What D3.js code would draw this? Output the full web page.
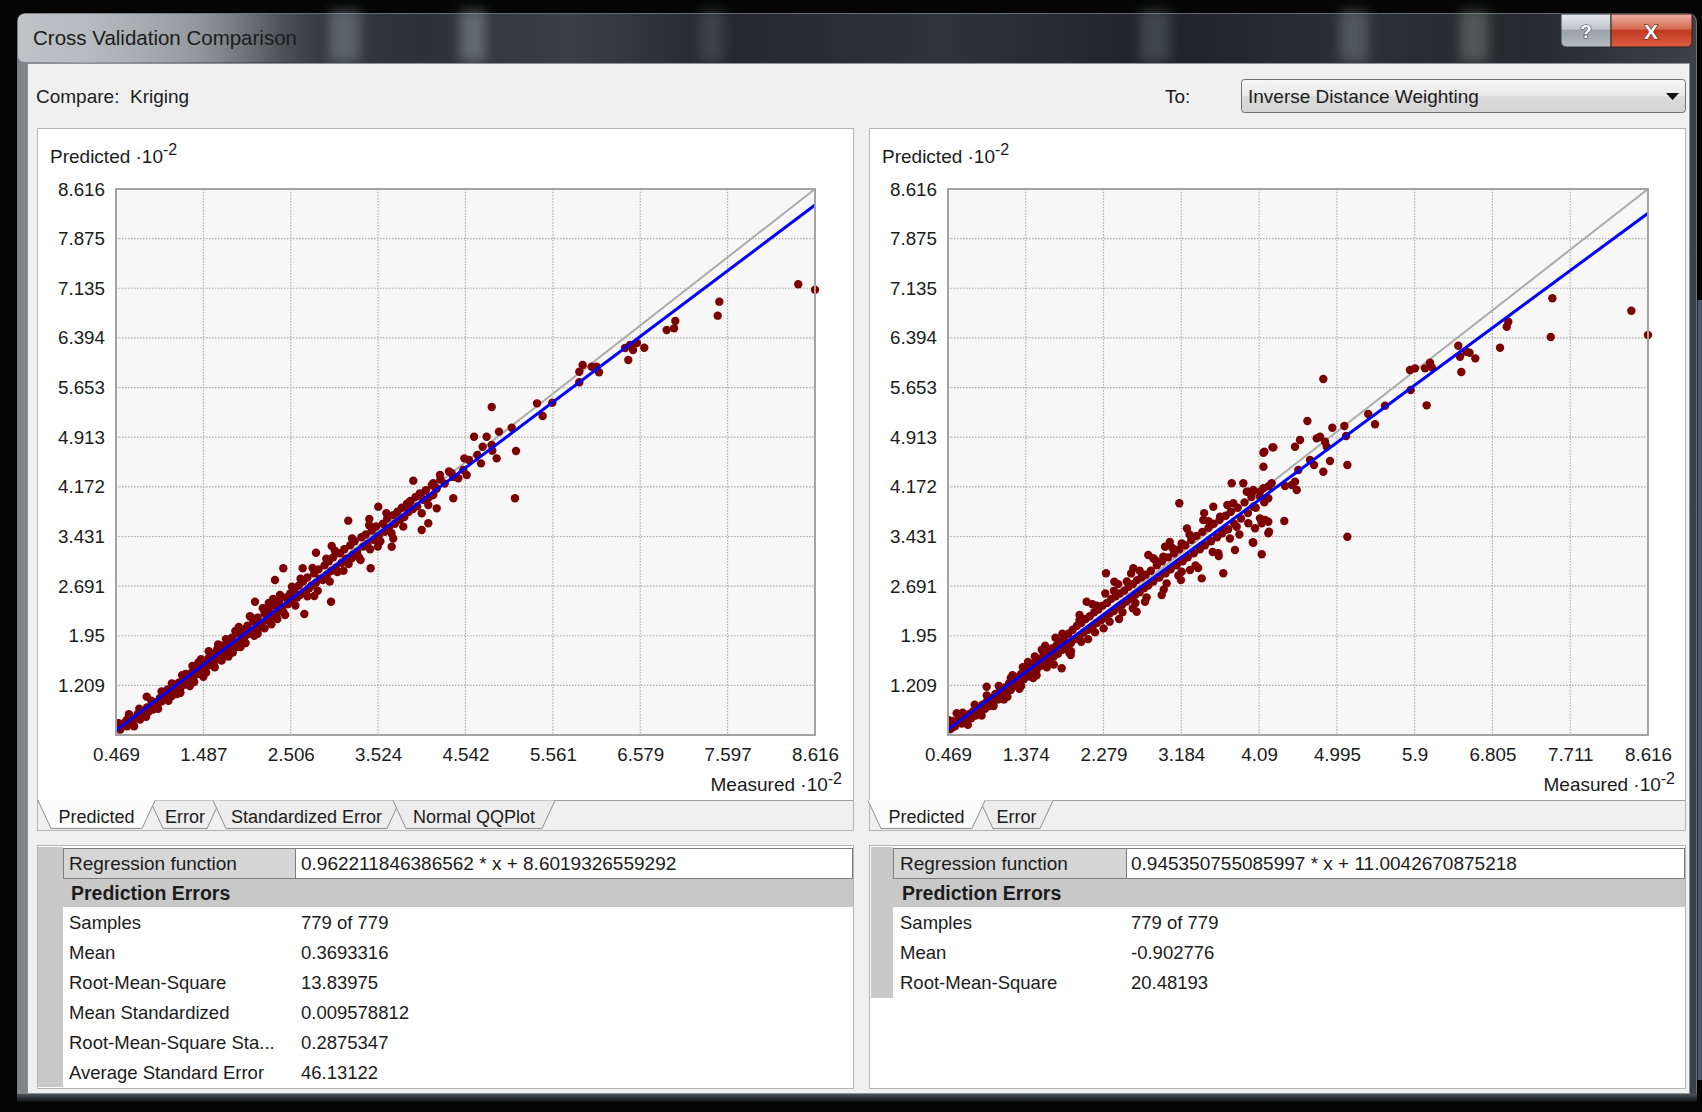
<!DOCTYPE html>
<html>
<head>
<meta charset="utf-8">
<script src="https://cdn.jsdelivr.net/npm/d3@7/dist/d3.min.js"></script>
<style>
html,body{margin:0;padding:0;background:#000;overflow:hidden;}
svg{display:block;}
text{font-family:"Liberation Sans",Arial,Helvetica,sans-serif;fill:#1b1b1b;white-space:pre;}
</style>
</head>
<body>
<svg id="chart" width="1702" height="1112"></svg>
<script>
// ---------------- DATA ----------------
const titleText = "Cross Validation Comparison";
const compareLabel = "Compare:  Kriging";
const toLabel = "To:";
const toChoice = "Inverse Distance Weighting";

const axisMin = 0.469, axisMax = 8.616;
const yTickLabels = ["1.209","1.95","2.691","3.431","4.172","4.913","5.653","6.394","7.135","7.875","8.616"];
const krigingXTickLabels = ["0.469","1.487","2.506","3.524","4.542","5.561","6.579","7.597","8.616"];
const idwXTickLabels = ["0.469","1.374","2.279","3.184","4.09","4.995","5.9","6.805","7.711","8.616"];

const krigingRegression = [0.962211846386562, 8.6019326559292];
const idwRegression = [0.945350755085997, 11.0042670875218];

const krigingTabs = ["Predicted","Error","Standardized Error","Normal QQPlot"];
const idwTabs = ["Predicted","Error"];

const krigingStatLabels = ["Samples","Mean","Root-Mean-Square","Mean Standardized","Root-Mean-Square Sta...","Average Standard Error"];
const krigingStatValues = ["779 of 779","0.3693316","13.83975","0.009578812","0.2875347","46.13122"];
const idwStatLabels = ["Samples","Mean","Root-Mean-Square"];
const idwStatValues = ["779 of 779","-0.902776","20.48193"];

// [measured, predicted] in units of 10^-2
const krigingPoints = [
[8.421,7.194],[8.616,7.114],[7.501,6.935],[7.482,6.726],[6.988,6.646],[6.887,6.512],[6.973,6.537],[6.626,6.248],
[6.440,6.064],[6.460,6.288],[6.541,6.318],[6.495,6.214],[6.402,6.243],[5.908,5.990],[5.869,5.890],[6.013,5.965],
[6.071,5.965],[6.098,5.881],[5.869,5.732],[4.848,5.363],[5.376,5.418],[5.442,5.229],[5.554,5.427],[5.081,5.054],
[4.933,4.995],[4.642,4.920],[4.789,4.920],[5.131,4.706],[4.743,4.770],[4.848,4.796],[4.855,4.711],[4.906,4.597],
[4.723,4.522],[4.680,4.647],[4.529,4.597],[4.583,4.572],[5.119,4.001],[4.381,4.374],[4.459,4.299],[4.556,4.349],
[4.517,4.423],[4.400,4.001],[4.245,4.349],[4.167,4.225],[4.207,4.150],[3.934,4.264],[4.012,4.075],[3.896,3.950],
[4.109,3.901],[4.167,4.050],[4.207,3.851],[4.032,3.777],[3.817,3.578],[4.032,3.528],[4.109,3.628],[3.526,3.876],
[3.176,3.667],[3.421,3.692],[2.419,2.956],[2.322,2.782],[2.800,3.189],[2.983,3.289],[2.975,2.458],[2.664,2.274],
[3.437,2.956],[3.682,3.279],[3.216,3.106],[2.780,2.543],[2.089,2.458],[2.645,2.956],[1.487,1.339],[0.827,1.041],
[0.496,0.644],[0.594,0.693],
[0.48,0.58],[0.50,0.64],[0.52,0.55],[0.55,0.62],[0.58,0.66],[0.60,0.60],[0.63,0.70],[0.66,0.64],[0.70,0.72],
[0.72,0.78],[0.75,0.70],[0.78,0.80],[0.80,0.75],[0.83,0.88],[0.85,0.82],[0.88,0.90],[0.90,0.85],[0.93,0.96],
[0.95,0.92],[0.98,1.02],[1.00,0.97],[1.02,1.08],[1.05,1.01],[1.07,1.15],[1.10,1.10],[1.12,1.05],[1.15,1.20],
[1.17,1.14],[1.20,1.25],[1.22,1.17],[1.25,1.30],[1.27,1.22],[1.30,1.33],[1.32,1.27],[1.35,1.40],[1.37,1.32],
[1.40,1.45],[1.42,1.38],[1.45,1.52],[1.47,1.43],[1.50,1.55],[1.52,1.48],[1.18,1.08],[1.33,1.20],[1.48,1.36],
[1.28,1.38],[1.43,1.55],[1.55,1.62],[1.57,1.52],[1.60,1.68],[1.62,1.57],[1.65,1.75],[1.67,1.63],[1.70,1.80],
[1.72,1.68],[1.75,1.72],[1.77,1.86],[1.80,1.76],[1.82,1.92],[1.85,1.82],[1.87,1.78],[1.90,1.98],[1.92,1.88],
[1.95,2.04],[1.97,1.93],[2.00,2.10],[2.02,1.98],[2.05,2.02],[2.07,2.16],[2.10,2.05],[2.12,2.22],[2.15,2.12],
[2.17,2.08],[2.20,2.28],[2.22,2.18],[2.25,2.34],[2.27,2.22],[2.30,2.26],[2.32,2.40],[2.35,2.30],[2.37,2.46],
[2.40,2.36],[2.42,2.30],[2.45,2.52],[2.47,2.42],[1.62,1.48],[1.78,1.64],[1.92,1.78],[2.08,1.95],[2.20,2.06],
[2.35,2.20],[1.66,1.82],[1.86,2.02],[2.03,2.24],[2.18,2.36],[2.30,2.50],[2.50,2.58],[2.52,2.46],[2.55,2.64],
[2.58,2.52],[2.60,2.70],[2.62,2.56],[2.65,2.76],[2.68,2.60],[2.70,2.82],[2.72,2.66],[2.75,2.70],[2.78,2.88],
[2.80,2.74],[2.83,2.94],[2.85,2.80],[2.88,2.78],[2.90,3.00],[2.93,2.86],[2.95,3.06],[2.98,2.92],[3.00,3.12],
[3.03,2.96],[3.05,2.90],[3.08,3.18],[3.10,3.04],[3.13,3.24],[3.15,3.10],[3.18,3.02],[3.20,3.30],[3.23,3.16],
[3.25,3.36],[3.28,3.20],[3.30,3.12],[3.33,3.42],[3.35,3.28],[3.38,3.46],[3.40,3.32],[3.43,3.24],[3.45,3.52],
[3.48,3.38],[3.50,3.58],[3.53,3.44],[3.55,3.36],[3.58,3.62],[3.60,3.50],[3.63,3.70],[3.65,3.56],[3.68,3.48],
[3.70,3.75],[3.72,3.62],[3.75,3.80],[3.78,3.68],[3.80,3.86],[3.83,3.72],[3.86,3.92],[3.88,3.80],[3.90,3.96],
[3.93,3.84],[3.96,4.02],[3.98,3.88],[4.02,4.06],[4.05,3.98],[4.08,4.12],[4.12,4.02],[4.15,4.20],[4.20,4.14],
[4.25,4.28],[4.30,4.22],[4.35,4.40],[4.40,4.32],
[1.55,1.72],[1.60,1.50],[1.70,1.58],[1.75,1.90],[1.83,1.70],[1.90,2.08],[1.98,1.84],[2.05,2.22],[2.12,1.98],
[2.25,2.44],[2.28,2.12],[2.38,2.56],[2.44,2.26],[2.52,2.68],[2.56,2.40],[2.62,2.80],[2.70,2.54],[2.76,2.96],
[2.82,2.62],[2.92,3.10],[2.96,2.76],[3.02,3.22],[3.12,2.92],[3.22,3.40],[3.32,3.08],[3.42,3.60],[3.52,3.28],
[3.62,3.78],[3.70,3.40],[0.62,0.78],[0.74,0.86],[0.88,0.98],[1.00,1.12],[1.12,1.24],[1.24,1.36],[1.36,1.50],
[1.46,1.60],[0.68,0.60],[0.82,0.74],[0.96,0.86],[1.08,0.98],[1.22,1.10],[1.38,1.26],[1.52,1.40]
];

const idwPoints = [
[8.422,6.800],[8.616,6.437],[7.503,6.985],[7.484,6.407],[6.894,6.248],[6.972,6.561],[6.990,6.636],[6.606,6.089],
[6.539,6.173],[6.501,6.188],[6.428,6.113],[6.408,6.278],[6.443,5.885],[6.040,5.388],[5.846,5.915],[5.904,5.940],
[6.021,5.940],[6.079,6.024],[6.099,5.955],[5.854,5.617],[4.837,5.781],[5.360,5.259],[5.439,5.105],[5.555,5.383],
[4.652,5.155],[4.942,5.054],[5.082,5.079],[5.102,4.930],[4.760,4.895],[4.799,4.920],[4.857,4.845],[4.877,4.770],
[4.566,4.870],[4.508,4.770],[4.245,4.761],[4.140,4.681],[4.140,4.472],[5.117,4.497],[4.915,4.557],[4.837,4.397],
[4.729,4.497],[4.682,4.572],[4.546,4.423],[4.508,4.249],[4.528,4.125],[4.469,4.199],[4.391,4.184],[4.383,3.662],
[5.117,3.428],[4.197,3.652],[4.205,3.503],[4.100,3.702],[4.120,3.628],[4.042,3.553],[3.964,3.628],[4.016,3.344],
[4.197,4.001],[4.236,4.225],[4.140,4.150],[4.023,3.876],[3.946,4.099],[3.906,4.225],[4.004,4.075],[3.161,3.926],
[4.151,4.697],[4.256,4.761],[3.771,4.225],[3.790,3.926],[3.964,4.099],[3.557,3.875],[3.440,3.677],[3.635,3.726],
[4.022,4.125],[4.100,4.025],[4.197,3.479],[4.159,3.677],[3.693,3.528],[3.829,3.577],[2.308,2.882],[2.405,2.756],
[2.626,2.956],[2.800,3.155],[2.858,3.106],[2.975,3.130],[2.995,3.279],[3.189,3.329],[3.422,2.806],[3.673,2.882],
[3.809,3.229],[3.615,3.180],[4.120,3.165],[4.022,3.338],[3.286,2.931],[3.189,2.906],[3.014,2.732],[2.956,2.558],
[2.762,2.458],[2.665,2.309],[1.792,1.464],[1.897,1.663],[2.083,2.458],[0.919,1.190],[0.570,0.793],[0.472,0.693],
[0.492,0.618],
[0.48,0.62],[0.50,0.56],[0.52,0.68],[0.55,0.60],[0.58,0.66],[0.60,0.72],[0.63,0.64],[0.66,0.74],[0.68,0.68],
[0.71,0.78],[0.74,0.72],[0.76,0.82],[0.79,0.76],[0.82,0.86],[0.84,0.80],[0.87,0.92],[0.90,0.86],[0.92,0.97],
[0.95,0.90],[0.98,1.02],[1.00,0.96],[1.02,1.08],[1.05,1.00],[1.08,1.14],[1.10,1.05],[1.13,1.18],[1.15,1.10],
[1.18,1.24],[1.20,1.14],[1.23,1.28],[1.25,1.20],[1.28,1.33],[1.30,1.24],[1.32,1.38],[1.35,1.30],[1.38,1.44],
[1.40,1.34],[1.43,1.48],[1.45,1.40],[1.48,1.55],[1.50,1.44],[1.53,1.60],[1.55,1.50],[1.58,1.66],[1.60,1.54],
[1.63,1.70],[1.65,1.58],[1.68,1.76],[1.70,1.64],[1.73,1.80],[1.75,1.68],[1.78,1.86],[1.12,1.00],[1.30,1.16],
[1.46,1.32],[1.62,1.48],[1.22,1.36],[1.40,1.56],[1.56,1.74],[1.72,1.92],[1.80,1.74],[1.82,1.92],[1.85,1.80],
[1.87,1.98],[1.90,1.84],[1.92,2.04],[1.95,1.90],[1.97,2.10],[2.00,1.94],[2.02,2.14],[2.05,2.00],[2.07,2.20],
[2.10,2.04],[2.12,2.24],[2.15,2.08],[2.17,2.30],[2.20,2.14],[2.22,2.34],[2.25,2.18],[2.27,2.40],[2.30,2.22],
[2.32,2.44],[2.35,2.28],[2.37,2.50],[2.40,2.32],[2.42,2.54],[2.45,2.38],[2.47,2.58],[2.50,2.42],[2.52,2.62],
[2.55,2.46],[2.57,2.68],[2.60,2.50],[2.62,2.72],[2.65,2.56],[2.67,2.78],[2.70,2.60],[2.72,2.82],[2.75,2.66],
[2.77,2.86],[1.88,1.70],[2.02,1.86],[2.18,2.00],[2.35,2.16],[2.50,2.30],[2.65,2.44],[2.00,2.26],[2.15,2.42],
[2.30,2.58],[2.45,2.72],[2.60,2.88],[2.80,2.70],[2.83,2.92],[2.86,2.76],[2.90,3.00],[2.93,2.82],[2.96,3.06],
[3.00,2.88],[3.03,3.12],[3.06,2.94],[3.10,3.18],[3.13,3.00],[3.16,3.24],[3.20,3.06],[3.23,3.30],[3.26,3.12],
[3.30,3.38],[3.33,3.18],[3.36,3.44],[3.40,3.24],[3.43,3.50],[3.46,3.30],[3.50,3.56],[3.53,3.36],[3.56,3.62],
[3.60,3.42],[3.63,3.68],[3.66,3.48],[3.70,3.74],[3.73,3.54],[3.76,3.80],[3.80,3.62],[3.84,3.86],[3.88,3.70],
[3.92,3.94],[3.96,3.78],[4.00,4.02],[4.05,3.86],[4.10,4.10],[4.15,3.94],[4.20,4.18],[3.05,3.35],[3.25,3.55],
[3.45,3.78],[3.15,2.85],[3.35,3.00],[3.55,3.20],[3.75,3.40],
[1.60,1.80],[1.70,1.52],[1.80,1.98],[1.90,1.72],[2.00,2.18],[2.10,1.90],[2.20,2.40],[2.28,2.06],[2.40,2.62],
[2.46,2.20],[2.55,2.76],[2.62,2.36],[2.70,2.92],[2.78,2.52],[2.88,3.08],[2.98,2.64],[3.08,3.26],[3.18,2.78],
[3.28,3.46],[3.38,2.96],[3.50,3.66],[3.62,3.14],[3.72,3.90],[3.86,3.46],[0.64,0.80],[0.78,0.92],[0.92,1.06],
[1.06,1.20],[1.20,1.32],[1.34,1.48],[1.48,1.64],[0.70,0.62],[0.86,0.76],[1.00,0.90],[1.16,1.04],[1.32,1.20],
[1.50,1.36]
];

// ---------------- DRAWING ----------------
const svg = d3.select("#chart");
const defs = svg.append("defs");
function lin(id, x2, y2, stops){
  const g = defs.append("linearGradient").attr("id", id)
    .attr("x1","0").attr("y1","0").attr("x2",x2).attr("y2",y2);
  stops.forEach(s => g.append("stop").attr("offset", s[0]).attr("stop-color", s[1])
    .attr("stop-opacity", s[2] == null ? 1 : s[2]));
}
lin("frameH","1","0",[[0,"#7d8286"],[0.04,"#9ba0a4"],[0.1,"#6f757a"],[0.16,"#3b4045"],[0.24,"#2c3135"],[0.33,"#394046"],[0.42,"#24282c"],[0.55,"#2f3439"],[0.68,"#1f2327"],[0.8,"#2b3034"],[0.9,"#262a2e"],[1,"#3c4247"]]);
lin("titleGlow","1","0",[[0,"#c7cbce",0.9],[0.6,"#b3b8bc",0.55],[1,"#9aa0a5",0]]);
lin("helpG","0","1",[[0,"#e6e9ec"],[0.45,"#bfc5ca"],[0.5,"#9aa2aa"],[1,"#b4bbc2"]]);
lin("closeG","0","1",[[0,"#eab1a4"],[0.45,"#d66a52"],[0.5,"#c23a22"],[1,"#dc5e43"]]);
lin("comboG","0","1",[[0,"#f6f6f6"],[0.5,"#e9e9e9"],[0.51,"#dcdcdc"],[1,"#d4d4d4"]]);
lin("bottomG","0","1",[[0,"#4d5359"],[1,"#0c0d0e"]]);
const blur = defs.append("filter").attr("id","blur").attr("x","-50%").attr("y","-50%").attr("width","200%").attr("height","200%");
blur.append("feGaussianBlur").attr("stdDeviation", 6);

// background + window frame
svg.append("rect").attr("width",1702).attr("height",1112).attr("fill","#050505");
svg.append("rect").attr("x",1697).attr("y",300).attr("width",5).attr("height",780).attr("fill","#6f8fb5").attr("opacity",0.6);
svg.append("rect").attr("x",17).attr("y",13).attr("width",1680).attr("height",1089).attr("rx",8)
  .attr("fill","url(#frameH)").attr("stroke","#000").attr("stroke-width",1);
// glass streaks
[[330,30,"#7f8c98",0.5],[460,26,"#9aa7b2",0.45],[700,24,"#56616b",0.45],[1140,30,"#6e7a86",0.4],[1340,28,"#7b8893",0.45],[1460,28,"#8a9a8f",0.4]]
  .forEach(s => svg.append("rect").attr("x",s[0]).attr("y",10).attr("width",s[1]).attr("height",52)
    .attr("fill",s[2]).attr("opacity",s[3]).attr("filter","url(#blur)"));
svg.append("rect").attr("x",18).attr("y",14).attr("width",300).attr("height",48).attr("rx",6).attr("fill","url(#titleGlow)");
svg.append("rect").attr("x",17.5).attr("y",13.5).attr("width",1679).attr("height",1088).attr("rx",8)
  .attr("fill","none").attr("stroke","#c9ced2").attr("stroke-opacity",0.45);
svg.append("rect").attr("x",17).attr("y",1094).attr("width",1680).attr("height",8).attr("fill","url(#bottomG)");
svg.append("text").attr("x",33).attr("y",45).attr("font-size",20.5).attr("fill","#141414").text(titleText);

// caption buttons
const cb = svg.append("g");
cb.append("path").attr("d","M1561,14 H1611 V47 H1567 Q1561,47 1561,41 Z").attr("fill","url(#helpG)").attr("stroke","#2f353a");
cb.append("path").attr("d","M1611,14 H1692 V41 Q1692,47 1686,47 H1611 Z").attr("fill","url(#closeG)").attr("stroke","#3a1f1a");
cb.append("text").attr("x",1586).attr("y",38).attr("text-anchor","middle").attr("font-size",19).attr("font-weight","bold")
  .style("fill","#fff").attr("stroke","#3c4248").attr("stroke-width",1.2).attr("paint-order","stroke").text("?");
cb.append("text").attr("x",1651).attr("y",39).attr("text-anchor","middle").attr("font-size",21).attr("font-weight","bold")
  .style("fill","#fff").attr("stroke","#5a1a10").attr("stroke-width",1.2).attr("paint-order","stroke").text("X");

// client area
svg.append("rect").attr("x",27.5).attr("y",63.5).attr("width",1662).attr("height",1030)
  .attr("fill","#f0f0f0").attr("stroke","#8d9297");
svg.append("text").attr("x",36).attr("y",103).attr("font-size",19).text(compareLabel);
svg.append("text").attr("x",1165).attr("y",103).attr("font-size",19).text(toLabel);
svg.append("rect").attr("x",1241.5).attr("y",79.5).attr("width",444).attr("height",33).attr("rx",3)
  .attr("fill","url(#comboG)").attr("stroke","#707070");
svg.append("text").attr("x",1248).attr("y",103).attr("font-size",19).text(toChoice);
svg.append("path").attr("d","M1666,93 L1679,93 L1672.5,100 Z").attr("fill","#111");

const layouts = [
  {px0:37, px1:853, x0:116, x1:815, labelX:50, measR:842,
   tabPos:[[38,155],[150,220],[213,400],[393,555]],
   strip:[37,63,1087], lab:[63,295], val:[295,852], labX:69, valX:301},
  {px0:869, px1:1685, x0:948, x1:1648, labelX:882, measR:1675,
   tabPos:[[868,985],[980,1053]],
   strip:[870,893,998], lab:[893,1126], val:[1126,1684], labX:900, valX:1131}
];

function drawPanel(idx, L, xLabels, points, reg, tabs, statLabels, statValues){
  const g = svg.append("g");
  const Y0 = 189, Y1 = 735;
  // panel
  g.append("rect").attr("x",L.px0+0.5).attr("y",128.5).attr("width",L.px1-L.px0).attr("height",702)
    .attr("fill","#f0f0f0").attr("stroke","#b4b4b4");
  g.append("rect").attr("x",L.px0+1).attr("y",129).attr("width",L.px1-L.px0-1).attr("height",671).attr("fill","#fff");
  g.append("line").attr("x1",L.px0).attr("x2",L.px1).attr("y1",800.5).attr("y2",800.5).attr("stroke","#9c9c9c");
  // tabs (unselected first, selected on top)
  const order = d3.range(tabs.length).filter(i => i !== 0).concat([0]);
  order.forEach(i => {
    const [a,b] = L.tabPos[i], sel = i === 0;
    g.append("path").attr("d",`M${a},800.5 L${a+13},828.5 L${b-13},828.5 L${b},800.5`)
      .attr("fill", sel ? "#fcfcfc" : "#ededed").attr("stroke","#8e8e8e");
    if (sel) g.append("line").attr("x1",a+1).attr("x2",b-1).attr("y1",800.5).attr("y2",800.5).attr("stroke","#fcfcfc");
    g.append("text").attr("x",(a+b)/2).attr("y",823).attr("text-anchor","middle").attr("font-size",18).text(tabs[i]);
  });

  const x = d3.scaleLinear().domain([axisMin, axisMax]).range([L.x0, L.x1]);
  const y = d3.scaleLinear().domain([axisMin, axisMax]).range([Y1, Y0]);
  const xVals = xLabels.map(Number), yVals = yTickLabels.map(Number);

  g.append("rect").attr("x",L.x0).attr("y",Y0).attr("width",L.x1-L.x0).attr("height",Y1-Y0).attr("fill","#f7f7f7");
  // grid
  g.append("g").selectAll("line").data(xVals.slice(1,-1)).join("line")
    .attr("x1",d=>x(d)).attr("x2",d=>x(d)).attr("y1",Y0).attr("y2",Y1)
    .attr("stroke","#a9a9a9").attr("stroke-width",1.1).attr("stroke-dasharray","1.5,1.5");
  g.append("g").selectAll("line").data(yVals.slice(0,-1)).join("line")
    .attr("y1",d=>y(d)).attr("y2",d=>y(d)).attr("x1",L.x0).attr("x2",L.x1)
    .attr("stroke","#a9a9a9").attr("stroke-width",1.1).attr("stroke-dasharray","1.5,1.5");

  // axes
  const ax = g.append("g").attr("transform",`translate(0,${Y1})`)
    .call(d3.axisBottom(x).tickValues(xVals).tickFormat((d,i)=>xLabels[i]).tickSize(0).tickPadding(13));
  const ay = g.append("g").attr("transform",`translate(${L.x0},0)`)
    .call(d3.axisLeft(y).tickValues(yVals).tickFormat((d,i)=>yTickLabels[i]).tickSize(0).tickPadding(11));
  [ax, ay].forEach(a => {
    a.select(".domain").remove();
    a.selectAll("text").attr("font-size",18.8).attr("font-family",'"Liberation Sans",Arial,sans-serif').style("fill","#1b1b1b");
  });

  // clip
  const cid = "clip" + idx;
  defs.append("clipPath").attr("id",cid).append("rect")
    .attr("x",L.x0).attr("y",Y0-5).attr("width",L.x1-L.x0+6).attr("height",Y1-Y0+5);
  const plot = g.append("g").attr("clip-path",`url(#${cid})`);
  plot.append("line").attr("x1",x(axisMin)).attr("y1",y(axisMin)).attr("x2",x(axisMax)).attr("y2",y(axisMax))
    .attr("stroke","#ababab").attr("stroke-width",2);
  plot.append("g").selectAll("circle").data(points).join("circle")
    .attr("cx",d=>x(d[0])).attr("cy",d=>y(d[1])).attr("r",4.2).attr("fill","#7d0000");
  const f = v => reg[0]*v + reg[1]/100;
  const lineGen = d3.line().x(d=>x(d)).y(d=>y(f(d)));
  plot.append("path").attr("d", lineGen([axisMin, axisMax])).attr("stroke","#0000ff").attr("stroke-width",3).attr("fill","none");

  // border
  g.append("rect").attr("x",L.x0).attr("y",Y0).attr("width",L.x1-L.x0).attr("height",Y1-Y0)
    .attr("fill","none").attr("stroke","#a3a3a3").attr("stroke-width",2);

  // axis titles
  const pt = g.append("text").attr("x",L.labelX).attr("y",163).attr("font-size",19);
  pt.append("tspan").text("Predicted ·10");
  pt.append("tspan").attr("dy",-8).attr("font-size",16).text("-2");
  const mt = g.append("text").attr("x",L.measR).attr("y",791).attr("font-size",19).attr("text-anchor","end");
  mt.append("tspan").text("Measured ·10");
  mt.append("tspan").attr("dy",-7).attr("font-size",16).text("-2");

  // statistics table
  const t = svg.append("g");
  t.append("rect").attr("x",L.px0+0.5).attr("y",845.5).attr("width",L.px1-L.px0).attr("height",243)
    .attr("fill","#fff").attr("stroke","#b4b4b4");
  t.append("rect").attr("x",L.strip[0]+1).attr("y",847).attr("width",L.strip[1]-L.strip[0]-1).attr("height",L.strip[2]-847).attr("fill","#c9c9c9");
  t.append("rect").attr("x",L.lab[0]+0.5).attr("y",848.5).attr("width",L.lab[1]-L.lab[0]).attr("height",30)
    .attr("fill","#d6d6d6").attr("stroke","#7d7d7d");
  t.append("rect").attr("x",L.val[0]+0.5).attr("y",848.5).attr("width",L.val[1]-L.val[0]).attr("height",30)
    .attr("fill","#fff").attr("stroke","#7d7d7d");
  t.append("text").attr("x",L.labX).attr("y",870).attr("font-size",19).text("Regression function");
  t.append("text").attr("x",L.valX).attr("y",870).attr("font-size",19).text(`${reg[0]} * x + ${reg[1]}`);
  t.append("rect").attr("x",L.lab[0]).attr("y",879).attr("width",L.val[1]-L.lab[0]+1).attr("height",28).attr("fill","#c8c8c8");
  t.append("text").attr("x",L.labX+2).attr("y",900).attr("font-size",19.5).attr("font-weight","bold").text("Prediction Errors");
  statLabels.forEach((s,i) => {
    t.append("text").attr("x",L.labX).attr("y",929+30*i).attr("font-size",18.5).text(s);
    t.append("text").attr("x",L.valX).attr("y",929+30*i).attr("font-size",18.5).text(statValues[i]);
  });
}

drawPanel(0, layouts[0], krigingXTickLabels, krigingPoints, krigingRegression, krigingTabs, krigingStatLabels, krigingStatValues);
drawPanel(1, layouts[1], idwXTickLabels, idwPoints, idwRegression, idwTabs, idwStatLabels, idwStatValues);
</script>
</body>
</html>
